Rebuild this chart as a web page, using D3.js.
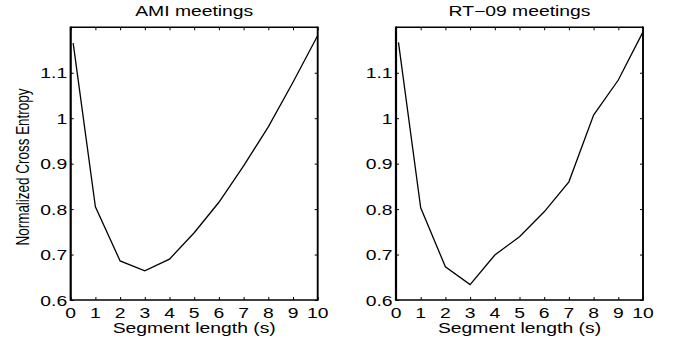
<!DOCTYPE html>
<html>
<head>
<meta charset="utf-8">
<script src="https://cdn.jsdelivr.net/npm/d3@7"></script>
<style>
  body { margin: 0; background: #fff; }
  svg { font-family: "Liberation Sans", Arial, Helvetica, sans-serif; }
</style>
</head>
<body>
<div id="chart-container"></div>
<script>
// Data
const segLen = [0.1, 1, 2, 3, 4, 5, 6, 7, 8, 9, 10];
const amiValues = [1.165, 0.805, 0.686, 0.664, 0.690, 0.748, 0.815, 0.895, 0.981, 1.079, 1.182];
const rt09Values = [1.167, 0.803, 0.673, 0.634, 0.699, 0.739, 0.794, 0.860, 1.007, 1.084, 1.190];
const xTicks = [0, 1, 2, 3, 4, 5, 6, 7, 8, 9, 10];
const yTicks = [0.6, 0.7, 0.8, 0.9, 1.0, 1.1];
const titles = ["AMI meetings", "RT\u221209 meetings"];

const width = 674, height = 341;
const panels = [
    { left: 70.7, title: titles[0], values: amiValues, ylabel: true },
    { left: 396, title: titles[1], values: rt09Values, ylabel: false }
];
const plotW = 247, plotTop = 27.3, plotBottom = 300;
// the reference figure is stretched horizontally, so text is widened
const sx = 1.38;

function init() {
    const svg = d3.select("#chart-container")
        .append("svg")
        .attr("width", width)
        .attr("height", height);

    // helper for horizontally stretched text
    const addText = (g, x, y, str, anchor, size) =>
        g.append("text")
            .attr("transform", `translate(${x},${y}) scale(${sx},1)`)
            .attr("text-anchor", anchor)
            .style("font-size", size + "px")
            .text(str);

    panels.forEach(p => {
        const xScale = d3.scaleLinear().domain([0, 10]).range([p.left, p.left + plotW]);
        const yScale = d3.scaleLinear().domain([0.6, 1.2]).range([plotBottom, plotTop]);
        const g = svg.append("g");

        // Inward ticks on all four sides
        const tickStyle = sel => {
            sel.select(".domain").remove();
            sel.selectAll(".tick line").attr("stroke", "#000").attr("stroke-width", 1);
        };
        g.append("g")
            .attr("transform", `translate(0,${plotBottom})`)
            .call(d3.axisBottom(xScale).tickValues(xTicks).tickSizeInner(-3).tickSizeOuter(0).tickFormat(""))
            .call(tickStyle);
        g.append("g")
            .attr("transform", `translate(0,${plotTop})`)
            .call(d3.axisTop(xScale).tickValues(xTicks).tickSizeInner(-3).tickSizeOuter(0).tickFormat(""))
            .call(tickStyle);
        g.append("g")
            .attr("transform", `translate(${p.left},0)`)
            .call(d3.axisLeft(yScale).tickValues(yTicks).tickSizeInner(-3).tickSizeOuter(0).tickFormat(""))
            .call(tickStyle);
        g.append("g")
            .attr("transform", `translate(${p.left + plotW},0)`)
            .call(d3.axisRight(yScale).tickValues(yTicks).tickSizeInner(-3).tickSizeOuter(0).tickFormat(""))
            .call(tickStyle);

        // Frame: vertical sides a bit thicker (horizontal stretch)
        g.append("line").attr("x1", p.left).attr("x2", p.left + plotW)
            .attr("y1", plotTop).attr("y2", plotTop)
            .attr("stroke", "#000").attr("stroke-width", 1.4);
        g.append("line").attr("x1", p.left).attr("x2", p.left + plotW)
            .attr("y1", plotBottom).attr("y2", plotBottom)
            .attr("stroke", "#000").attr("stroke-width", 1.6);
        g.append("line").attr("x1", p.left).attr("x2", p.left)
            .attr("y1", plotTop - 0.7).attr("y2", plotBottom + 0.8)
            .attr("stroke", "#000").attr("stroke-width", 2.2);
        g.append("line").attr("x1", p.left + plotW).attr("x2", p.left + plotW)
            .attr("y1", plotTop - 0.7).attr("y2", plotBottom + 0.8)
            .attr("stroke", "#000").attr("stroke-width", 1.9);

        // Tick labels
        xTicks.forEach(d => addText(g, xScale(d), plotBottom + 18, d, "middle", 14));
        yTicks.forEach(d => addText(g, p.left - 3.5, yScale(d) + 5.5,
            d === 1 ? "1" : d3.format(".1f")(d), "end", 14));

        // Title and x label
        addText(g, p.left + plotW / 2, 16, p.title, "middle", 14);
        addText(g, p.left + plotW / 2, 333, "Segment length (s)", "middle", 14);

        if (p.ylabel) {
            g.append("text")
                .attr("transform", `translate(29,167) rotate(-90) scale(1,${sx})`)
                .attr("text-anchor", "middle")
                .attr("textLength", 157)
                .attr("lengthAdjust", "spacingAndGlyphs")
                .style("font-size", "13.5px")
                .text("Normalized Cross Entropy");
        }

        // Line
        const line = d3.line()
            .x((d, i) => xScale(segLen[i]))
            .y(d => yScale(d));
        g.append("path")
            .datum(p.values)
            .attr("d", line)
            .attr("fill", "none")
            .attr("stroke", "#000")
            .attr("stroke-width", 1.3);
    });
}

window.onload = init;
</script>
</body>
</html>
